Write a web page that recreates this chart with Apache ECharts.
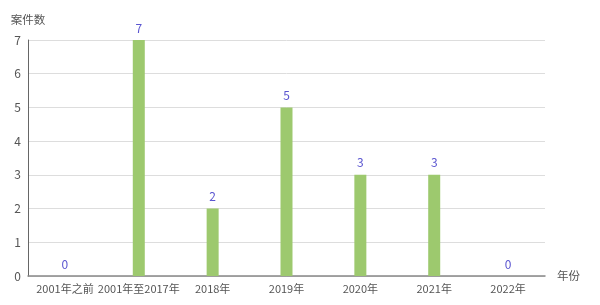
<!DOCTYPE html>
<html><head><meta charset="utf-8">
<script src="https://cdn.jsdelivr.net/npm/echarts@6/dist/echarts.min.js"></script>
<style>html,body{margin:0;padding:0;background:#fff}#c{width:600px;height:305px}</style>
</head><body><div id="c"></div>
<script>
var categories = ['2001年之前','2001年至2017年','2018年','2019年','2020年','2021年','2022年'];
var values = [0,7,2,5,3,3,0];
var chart = echarts.init(document.getElementById('c'));
var ff = '"Noto Sans CJK SC","Noto Sans",sans-serif';
chart.setOption({
  animation:false,
  grid:{left:28,right:55,top:40,bottom:29,containLabel:false},
  xAxis:{type:'category',data:categories,name:'年份',nameGap:12,
    nameTextStyle:{color:'#555',fontSize:11.5,fontFamily:ff,verticalAlign:'middle'},
    axisLine:{lineStyle:{color:'#888',width:1.5}},axisTick:{show:false},
    axisLabel:{color:'#555',fontSize:11,fontFamily:ff,margin:7,interval:0}},
  yAxis:{type:'value',min:0,max:7,interval:1,name:'案件数',
    nameTextStyle:{color:'#555',fontSize:11.5,fontFamily:ff,align:'center'},
    nameGap:15,
    axisLine:{show:true,lineStyle:{color:'#666'}},axisTick:{show:false},
    axisLabel:{color:'#555',fontSize:12,fontFamily:ff,margin:7},
    splitLine:{lineStyle:{color:'#ddd'}}},
  series:[{type:'bar',data:values,barWidth:12,itemStyle:{color:'#9dc96e'},
    label:{show:true,position:'top',color:'#5a55d0',fontSize:12,fontFamily:ff,distance:6}}]
});
</script></body></html>
